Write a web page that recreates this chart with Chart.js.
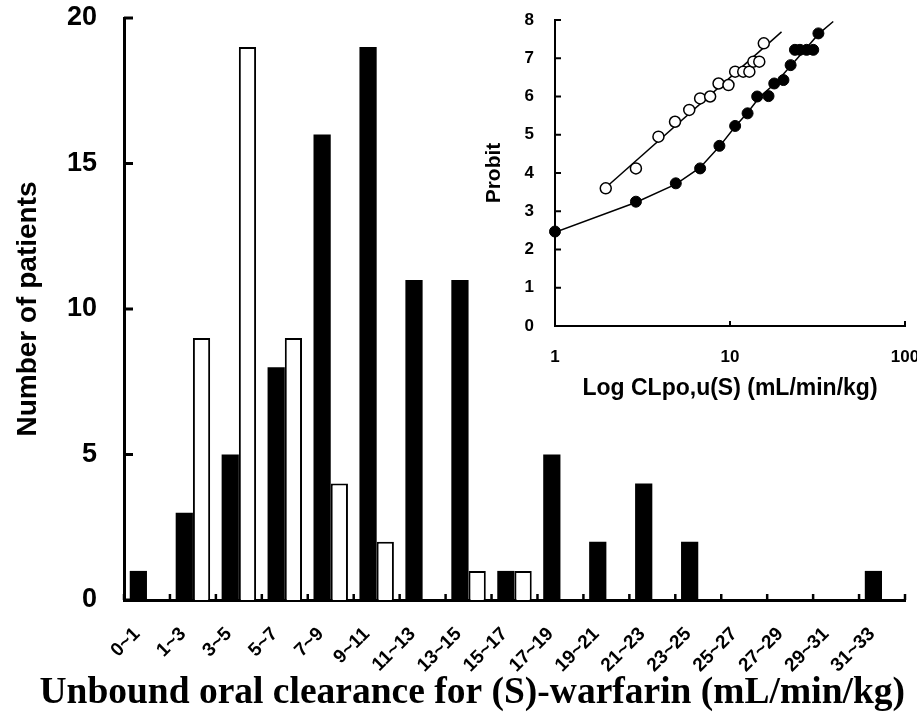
<!DOCTYPE html>
<html>
<head>
<meta charset="utf-8">
<script src="https://cdn.jsdelivr.net/npm/chart.js@4.4.1/dist/chart.umd.min.js"></script>
<style>
  html, body { margin: 0; padding: 0; background: #fff; }
  #wrap { position: relative; width: 917px; height: 713px; }
  #mainChart { position: absolute; left: 0; top: 0; }
  #insetChart { position: absolute; left: 470px; top: 0; }
</style>
</head>
<body>
<div id="wrap">
  <canvas id="mainChart" width="917" height="713"></canvas>
  <canvas id="insetChart" width="447" height="410"></canvas>
</div>
<script>
// histogram
const bins = ['0~1', '1~3', '3~5', '5~7', '7~9', '9~11', '11~13', '13~15', '15~17',
  '17~19', '19~21', '21~23', '23~25', '25~27', '27~29', '29~31', '31~33'];
const filledCounts = [1, 3, 5, 8, 16, 19, 11, 11, 1, 5, 2, 4, 2, 0, 0, 0, 1];
const openCounts   = [0, 9, 19, 9, 4, 2, 0, 1, 1, 0, 0, 0, 0, 0, 0, 0, 0];
const countTicks = [0, 5, 10, 15, 20];

// inset probit plot
const openX = [1.95, 2.9, 3.9, 4.85, 5.85, 6.75, 7.7, 8.6, 9.8, 10.7, 11.9, 12.9, 13.6, 14.7, 15.6];
const openY = [3.6, 4.12, 4.95, 5.34, 5.65, 5.95, 6.0, 6.34, 6.3, 6.65, 6.65, 6.65, 6.91, 6.91, 7.39];
const filledX = [1, 2.9, 4.9, 6.75, 8.7, 10.7, 12.6, 14.3, 16.6, 17.9, 20.2, 22.2, 23.5, 25.1, 27.4, 29.9, 32];
const filledY = [2.47, 3.25, 3.73, 4.12, 4.71, 5.23, 5.56, 6.0, 6.01, 6.34, 6.43, 6.82, 7.22, 7.22, 7.22, 7.22, 7.65];
const openFitX = [1.93, 19.7];
const openFitY = [3.6, 7.69];
const filledFitX = [1, 2.89, 4.91, 6.74, 8.69, 10.68, 12.62, 14.8, 18.1, 22.0, 26.2, 32.0, 38.9];
const filledFitY = [2.45, 3.23, 3.71, 4.14, 4.69, 5.21, 5.58, 5.99, 6.34, 6.78, 7.17, 7.63, 7.96];
const probitTicks = [0, 1, 2, 3, 4, 5, 6, 7, 8];
const logTicks = [1, 10, 100];

Chart.defaults.color = '#000';
Chart.defaults.font.family = "'Liberation Sans', Arial, sans-serif";

const xy = (xs, ys) => xs.map((x, i) => ({ x: x, y: ys[i] }));

// small tick marks pointing into the plot
const inwardTicks = {
  id: 'inwardTicks',
  afterDraw(chart, args, opts) {
    const ctx = chart.ctx;
    ctx.save();
    ctx.strokeStyle = '#000';
    opts.marks.forEach(m => {
      const s = chart.scales[m.scale];
      ctx.lineWidth = m.width;
      m.values.forEach(v => {
        const p = s.getPixelForValue(v);
        ctx.beginPath();
        if (s.isHorizontal()) {
          ctx.moveTo(p, s.top);
          ctx.lineTo(p, s.top - m.len);
        } else {
          ctx.moveTo(s.right, p);
          ctx.lineTo(s.right + m.len, p);
        }
        ctx.stroke();
      });
    });
    ctx.restore();
  }
};

const noPad = s => { s.paddingLeft = 0; s.paddingRight = 0; s.paddingTop = 0; s.paddingBottom = 0; };

new Chart(document.getElementById('mainChart'), {
  type: 'bar',
  data: {
    labels: bins,
    datasets: [{
      data: filledCounts,
      backgroundColor: '#000',
      borderColor: '#000',
      borderWidth: 0
    }, {
      data: openCounts,
      backgroundColor: '#fff',
      borderColor: '#000',
      borderWidth: 2
    }]
  },
  options: {
    responsive: false,
    animation: false,
    layout: { padding: { top: 18, right: 12, left: 0, bottom: 0 } },
    plugins: {
      legend: { display: false },
      tooltip: { enabled: false },
      title: {
        display: true,
        position: 'bottom',
        align: 'end',
        text: 'Unbound oral clearance for (S)-warfarin (mL/min/kg)',
        font: { family: "'Liberation Serif', 'Times New Roman', serif", size: 37.5, weight: 'bold', lineHeight: 1.0 },
        padding: { top: 0, bottom: 1 }
      },
      inwardTicks: {
        marks: [
          { scale: 'y', values: countTicks, len: 9, width: 3 },
          { scale: 'x', values: bins.map((b, i) => i - 0.5).concat([bins.length - 0.5]), len: 6, width: 2.5 }
        ]
      }
    },
    datasets: { bar: { categoryPercentage: 0.75, barPercentage: 1.0 } },
    scales: {
      x: {
        grid: { display: false, drawTicks: false },
        border: { display: true, color: '#000', width: 3 },
        ticks: {
          autoSkip: false, maxRotation: 45, minRotation: 45,
          font: { size: 19, weight: 'bold' },
          padding: 23, labelOffset: -10
        },
        afterFit: s => { s.height = 74.5; noPad(s); }
      },
      y: {
        min: 0, max: 20,
        grid: { display: false, drawTicks: false },
        border: { display: true, color: '#000', width: 3 },
        ticks: { stepSize: 5, font: { size: 27, weight: 'bold' }, padding: 27 },
        afterBuildTicks: s => { s.ticks = countTicks.map(v => ({ value: v })); },
        title: {
          display: true,
          text: 'Number of patients',
          font: { size: 28, weight: 'bold' },
          padding: { top: 11, bottom: 0 }
        },
        afterFit: s => { s.width = 124; noPad(s); }
      }
    }
  },
  plugins: [inwardTicks]
});

new Chart(document.getElementById('insetChart'), {
  type: 'scatter',
  data: {
    datasets: [{
      data: xy(openX, openY),
      pointStyle: 'circle', pointRadius: 5.5,
      pointBackgroundColor: '#fff', pointBorderColor: '#000', pointBorderWidth: 1.5,
      showLine: false, order: 1, clip: false
    }, {
      data: xy(filledX, filledY),
      pointStyle: 'circle', pointRadius: 5.5,
      pointBackgroundColor: '#000', pointBorderColor: '#000', pointBorderWidth: 1,
      showLine: false, order: 1, clip: false
    }, {
      data: xy(openFitX, openFitY),
      showLine: true, pointRadius: 0, borderColor: '#000', borderWidth: 1.5, order: 2
    }, {
      data: xy(filledFitX, filledFitY),
      showLine: true, pointRadius: 0, borderColor: '#000', borderWidth: 1.5, order: 2
    }]
  },
  options: {
    responsive: false,
    animation: false,
    layout: { padding: { top: 20, right: 12, left: 0, bottom: 0 } },
    plugins: {
      legend: { display: false },
      tooltip: { enabled: false },
      inwardTicks: {
        marks: [
          { scale: 'y', values: probitTicks, len: 6, width: 2 },
          { scale: 'x', values: [10, 100], len: 5, width: 2 }
        ]
      }
    },
    scales: {
      x: {
        type: 'logarithmic', min: 1, max: 100,
        grid: { display: false, drawTicks: false },
        border: { display: true, color: '#000', width: 2 },
        afterBuildTicks: s => { s.ticks = logTicks.map(v => ({ value: v })); },
        ticks: {
          autoSkip: false, maxRotation: 0,
          font: { size: 17, weight: 'bold' }, padding: 21,
          callback: v => String(v)
        },
        title: {
          display: true,
          text: 'Log CLpo,u(S) (mL/min/kg)',
          font: { size: 23, weight: 'bold' },
          padding: { top: 0, bottom: 8 }
        },
        afterFit: s => { s.height = 84; noPad(s); }
      },
      y: {
        min: 0, max: 8,
        grid: { display: false, drawTicks: false },
        border: { display: true, color: '#000', width: 2 },
        afterBuildTicks: s => { s.ticks = probitTicks.map(v => ({ value: v })); },
        ticks: { font: { size: 17, weight: 'bold' }, padding: 21 },
        title: {
          display: true,
          text: 'Probit',
          font: { size: 21, weight: 'bold' },
          padding: { top: 12, bottom: 0 }
        },
        afterFit: s => { s.width = 85; noPad(s); }
      }
    }
  },
  plugins: [inwardTicks]
});
</script>
</body>
</html>
